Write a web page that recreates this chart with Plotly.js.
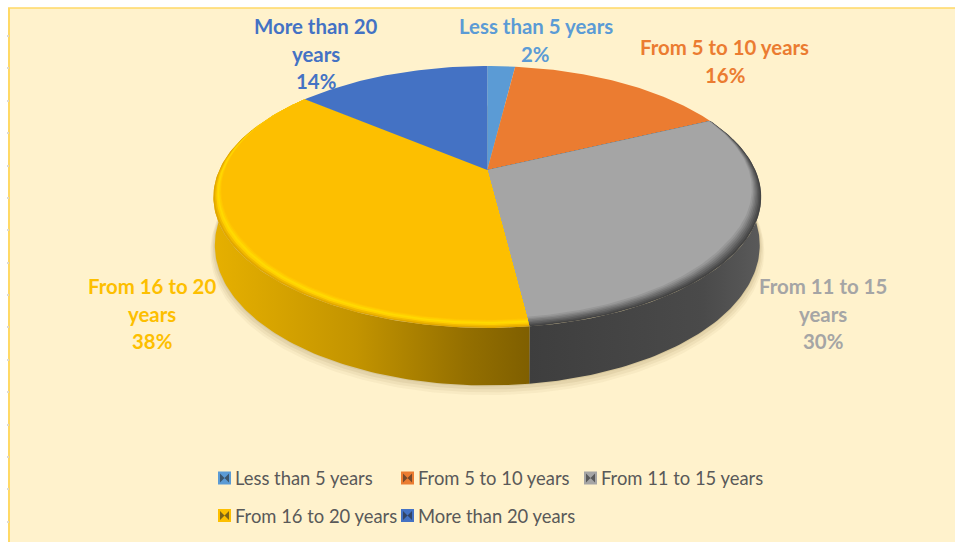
<!DOCTYPE html>
<html>
<head>
<meta charset="utf-8">
<script src="https://cdn.plot.ly/plotly-3.0.1.min.js"></script>
<style>html,body{margin:0;padding:0;background:#fff}#chart{width:955px;height:542px}</style>
</head>
<body>
<div id="chart"></div>
<script>
// Years-of-experience breakdown, drawn as a tilted 3D-style pie.
const categories = ['Less than 5 years', 'From 5 to 10 years', 'From 11 to 15 years', 'From 16 to 20 years', 'More than 20 years'];
const shares = [2, 16, 30, 38, 14];
const colors = ['#5B9BD5', '#EB7C31', '#A5A5A5', '#FDBF00', '#4472C4'];
const labelLines = [['Less than 5 years'], ['From 5 to 10 years'], ['From 11 to 15', 'years'], ['From 16 to 20', 'years'], ['More than 20', 'years']];
const labelX = [535.5, 724.5, 823, 152, 315.5];
const labelTop = [26, 47, 286, 286, 26];
const labelStep = 27.6;
const legendX = [224.5, 407.5, 590.5, 224.5, 407.5];
const legendY = [478, 478, 478, 515.5, 515.5];

// Perspective model of the disc: far edge compressed, near edge enlarged.
const centre = {x: 487.3, y: 170};
const spread = {x: 268, y: 125.4, depth: 0.206};
const wallHeight = 46.5;
const DEG = Math.PI / 180;

function project(theta, radius, drop) {
  const u = Math.sin(theta) * radius, v = Math.cos(theta) * radius;
  const w = 1 + spread.depth * v;
  return [centre.x + spread.x * u / w, centre.y - spread.y * v / w + drop / w];
}
function arc(a, b, radiusAt, drop) {
  const pts = [], n = Math.max(2, Math.ceil(Math.abs(b - a) / DEG));
  for (let i = 0; i <= n; i++) {
    const t = a + (b - a) * i / n;
    pts.push(project(t, radiusAt(t), drop));
  }
  return pts;
}
function poly(pts, fill, extra) {
  return Object.assign({
    type: 'scatter', mode: 'lines', x: pts.map(p => p[0]), y: pts.map(p => p[1]),
    fill: 'toself', fillcolor: fill, line: {width: 0}, hoverinfo: 'skip', showlegend: false
  }, extra || {});
}

// Cumulative angles of the slices, clockwise from twelve o'clock.
const total = shares.reduce((a, b) => a + b, 0);
const edges = [0];
shares.forEach(s => edges.push(edges[edges.length - 1] + s / total * 360 * DEG));

const traces = [];

// Soft ground shadow under the disc.
[[1.016, 5, 0.05], [1.012, 3.5, 0.07], [1.007, 2, 0.09], [1.002, 0.5, 0.12]].forEach(([r, d, a]) => {
  traces.push(poly(arc(0, 2 * Math.PI, () => r * 0.995, wallHeight + d), `rgba(125,105,40,${a})`));
});

// Side walls: only the near-facing slices show one.
const wallShades = {
  2: [[0, '#5A5A5A'], [0.25, '#4A4A4A'], [1, '#3E3E3E']],
  3: [[0, '#E6B000'], [0.45, '#C39400'], [0.8, '#946F00'], [1, '#7F5F00']]
};
function wall(index, a, b) {
  const top = arc(a, b, () => 1, 0);
  const bottom = arc(b, a, () => 0.995, wallHeight);
  const stops = wallShades[index];
  const scale = index === 2 ? stops.map(s => [1 - s[0], s[1]]).reverse() : stops;
  return poly(top.concat(bottom), stops[0][1], {
    fillgradient: {type: 'horizontal', colorscale: scale}
  });
}
traces.push(wall(2, 75 * DEG, edges[3]));
traces.push(wall(3, edges[3], 290 * DEG));

// Bevel along the near rim: each pass insets the slice further toward the front.
const bevelStrength = v => Math.min(1, Math.max(0, (0.55 - v) / 1.1));
const bevels = {
  2: [[0, '#444444'], [0.14, '#505050'], [0.28, '#5E5E5E'], [0.42, '#6C6C6C'], [0.56, '#7B7B7B'], [0.7, '#8A8A8A'], [0.84, '#989898']],
  3: [[0, '#E2A800'], [0.18, '#F2BA00'], [0.36, '#FFD000'], [0.54, '#FFDA00'], [0.72, '#FFCE00'], [0.88, '#FFC400']]
};
const bevelDepth = {2: 0.05, 3: 0.042};
function slice(i, inset, fill) {
  const radius = t => 1 - inset * bevelStrength(Math.cos(t));
  const rim = arc(edges[i], edges[i + 1], radius, 0);
  return poly([[centre.x, centre.y]].concat(rim).concat([[centre.x, centre.y]]), fill);
}
categories.forEach((name, i) => {
  if (bevels[i]) bevels[i].forEach(([k, c]) => traces.push(slice(i, k * bevelDepth[i], c)));
  traces.push(Object.assign(slice(i, bevels[i] ? bevelDepth[i] : 0, colors[i]), {
    name: name, text: `${name}: ${shares[i]}%`, hoverinfo: 'text', hoveron: 'fills'
  }));
});

// Legend keys: a square with a darker bevel, and the category beside it.
categories.forEach((name, i) => {
  traces.push({
    type: 'scatter', mode: 'markers', x: [legendX[i]], y: [legendY[i]],
    marker: {symbol: 'square', size: 13, color: colors[i], line: {width: 0}},
    hoverinfo: 'skip', showlegend: false
  });
  traces.push({
    type: 'scatter', mode: 'markers', x: [legendX[i]], y: [legendY[i]],
    marker: {symbol: 'bowtie', size: 9, color: 'rgba(40,40,40,0.6)', line: {width: 0}},
    hoverinfo: 'skip', showlegend: false
  });
});

const nameTags = categories.map((name, i) => ({
  x: legendX[i] + 8.5, y: legendY[i], xref: 'x', yref: 'y', xanchor: 'left', yanchor: 'middle',
  showarrow: false, text: name,
  font: {family: 'Lato, sans-serif', size: 18.4, color: '#595959'}
}));

const dataLabels = [];
categories.forEach((name, i) => {
  labelLines[i].concat(`${shares[i]}%`).forEach((line, k) => {
    dataLabels.push({
      x: labelX[i], y: labelTop[i] + k * labelStep, xref: 'x', yref: 'y',
      xanchor: 'center', yanchor: 'middle', showarrow: false, text: line,
      font: {family: 'Lato, sans-serif', size: 20.4, color: colors[i], weight: 700}
    });
  });
});

// Small grey notches down the left edge of the panel.
const notchY = [36, 68, 101, 133, 166, 198, 230, 263, 295, 327, 360, 392, 425, 457, 489, 522];
const notches = notchY.map(y => ({
  type: 'line', layer: 'below', xref: 'x', yref: 'y', x0: 7, x1: 9, y0: y, y1: y,
  line: {color: '#DEDAD0', width: 2}
}));

const layout = {
  width: 955, height: 542, margin: {l: 0, r: 0, t: 0, b: 0},
  paper_bgcolor: '#FFFFFF', plot_bgcolor: 'rgba(0,0,0,0)', showlegend: false,
  xaxis: {range: [0, 955], visible: false, fixedrange: true},
  yaxis: {range: [542, 0], visible: false, fixedrange: true},
  annotations: dataLabels.concat(nameTags),
  shapes: [
    {type: 'rect', layer: 'below', xref: 'x', yref: 'y', x0: 9, x1: 955, y0: 8, y1: 542,
     fillcolor: '#FFF2CC', line: {width: 0}},
    {type: 'line', layer: 'below', xref: 'x', yref: 'y', x0: 8, x1: 955, y0: 8, y1: 8,
     line: {color: '#FFD966', width: 1.5}},
    {type: 'line', layer: 'below', xref: 'x', yref: 'y', x0: 9, x1: 9, y0: 8, y1: 542,
     line: {color: '#FFD966', width: 2}}
  ].concat(notches)
};

Plotly.newPlot('chart', traces, layout, {displayModeBar: false});
</script>
</body>
</html>
